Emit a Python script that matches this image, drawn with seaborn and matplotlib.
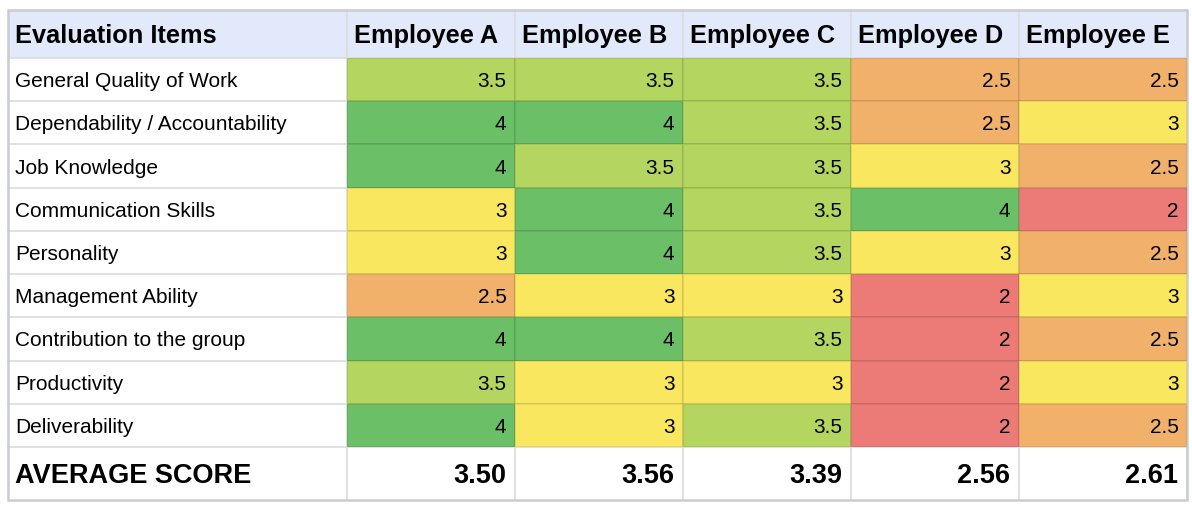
import numpy as np
import pandas as pd
import matplotlib
matplotlib.use("Agg")
import matplotlib.pyplot as plt
from matplotlib.colors import ListedColormap, BoundaryNorm
from matplotlib.patches import Rectangle
import seaborn as sns

items = ["General Quality of Work", "Dependability / Accountability", "Job Knowledge",
         "Communication Skills", "Personality", "Management Ability",
         "Contribution to the group", "Productivity", "Deliverability"]
employees = ["Employee A", "Employee B", "Employee C", "Employee D", "Employee E"]
emp_a = [3.5, 4, 4, 3, 3, 2.5, 4, 3.5, 4]
emp_b = [3.5, 4, 3.5, 4, 4, 3, 4, 3, 3]
emp_c = [3.5, 3.5, 3.5, 3.5, 3.5, 3, 3.5, 3, 3.5]
emp_d = [2.5, 2.5, 3, 4, 3, 2, 2, 2, 2]
emp_e = [2.5, 3, 2.5, 2, 2.5, 3, 2.5, 3, 2.5]
header_first = "Evaluation Items"
avg_label = "AVERAGE SCORE"

score_levels = [2, 2.5, 3, 3.5, 4]
score_colors = ["#ec7b77", "#f2b16b", "#f9e75f", "#b4d660", "#6bbf66"]

df = pd.DataFrame({"Employee A": emp_a, "Employee B": emp_b, "Employee C": emp_c,
                   "Employee D": emp_d, "Employee E": emp_e}, index=items)
averages = df.mean(axis=0)

W, H = 1192, 508
fig = plt.figure(figsize=(W / 100, H / 100), dpi=100)
fig.patch.set_facecolor("white")

# layout (pixels)
left, right = 8, 1187
top, head_bot = 10, 58
body_bot, bottom = 447, 500
col1 = 347
font = "Liberation Sans"
grid_c = "#d9dbe0"
CAP = 0.716 * 100 / 72  # cap height in px per pt


def base(yc, fs):
    return yc + CAP * fs / 2


bg = fig.add_axes([0, 0, 1, 1])
bg.set_xlim(0, W)
bg.set_ylim(H, 0)
bg.axis("off")

# header background
bg.add_patch(Rectangle((left, top), right - left, head_bot - top, facecolor="#e1e9fb",
                       edgecolor="none", zorder=0))

ncol = len(employees)
colw = (right - col1) / ncol
rowh = (body_bot - head_bot) / len(items)

fs_head, fs_body, fs_avg = 18.3, 15, 19.5

# header texts
hy = base((top + head_bot) / 2, fs_head)
bg.text(left + 7, hy, header_first, fontsize=fs_head, fontweight="bold",
        family=font, va="baseline", ha="left")
for j, e in enumerate(employees):
    bg.text(col1 + j * colw + 7, hy, e, fontsize=fs_head, fontweight="bold",
            family=font, va="baseline", ha="left")

# item labels
for i, it in enumerate(items):
    bg.text(left + 7, base(head_bot + (i + 0.5) * rowh, fs_body), it, fontsize=fs_body,
            family=font, va="baseline", ha="left")

# average row
ay = base((body_bot + bottom) / 2, fs_avg)
bg.text(left + 7, ay, avg_label, fontsize=fs_avg, fontweight="bold", family=font,
        va="baseline", ha="left")
for j, e in enumerate(employees):
    bg.text(col1 + (j + 1) * colw - 8.5, ay, f"{averages[e]:.2f}", fontsize=fs_avg,
            fontweight="bold", family=font, va="baseline", ha="right")

# grid lines
for i in range(len(items) + 1):
    y = head_bot + i * rowh
    bg.plot([left, right], [y, y], color=grid_c, lw=1.2, zorder=1)
for j in range(ncol + 1):
    x = col1 + j * colw
    bg.plot([x, x], [top, bottom], color=grid_c, lw=1.2, zorder=1)
bg.add_patch(Rectangle((left, top), right - left, bottom - top, facecolor="none",
                       edgecolor="#c9ccd4", lw=1.8, zorder=3))

# heatmap for scores
hm = fig.add_axes([col1 / W, 1 - body_bot / H, (right - col1) / W, (body_bot - head_bot) / H])
cmap = ListedColormap(score_colors)
bounds = [score_levels[0] - 0.25] + [v + 0.25 for v in score_levels]
norm = BoundaryNorm(bounds, cmap.N)
annot = df.map(lambda v: f"{v:g}")
sns.heatmap(df, ax=hm, cmap=cmap, norm=norm, cbar=False, annot=annot.values, fmt="",
            linewidths=1.2, linecolor=(0, 0, 0, 0.08),
            annot_kws={"color": "black", "fontsize": fs_body, "family": font})
dy = CAP * fs_body / 2 / rowh
dx = 8.5 / colw
for t in hm.texts:
    x, y = t.get_position()
    t.set_ha("right")
    t.set_va("baseline")
    t.set_position((x + 0.5 - dx, y + dy))
hm.set_xticks([])
hm.set_yticks([])
hm.set_xlabel("")
hm.set_ylabel("")
for s in hm.spines.values():
    s.set_visible(False)

fig.savefig("out.png", dpi=100, facecolor="white")
